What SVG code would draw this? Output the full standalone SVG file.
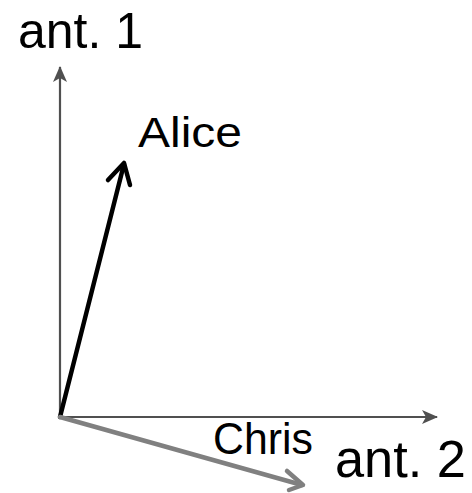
<svg xmlns="http://www.w3.org/2000/svg" width="472" height="493" viewBox="0 0 472 493">
<style>
.lbl{font-family:"Liberation Sans",Arial,sans-serif;fill:#000}
.axis{stroke:#505050;stroke-width:2.2;fill:none}
</style>
<defs>
<marker id="axh" viewBox="0 0 16 14" refX="15" refY="7" markerWidth="16" markerHeight="14" markerUnits="userSpaceOnUse" orient="auto">
<path d="M0,0 L16,7 L0,14 L4,7 Z" fill="#505050"/>
</marker>
</defs>
<rect width="472" height="493" fill="#fff"/>
<g id="connectors">
<line class="axis" x1="60" y1="418" x2="60" y2="67" marker-end="url(#axh)"/>
<line class="axis" x1="60" y1="417" x2="437" y2="417" marker-end="url(#axh)"/>
<g id="alice-vector">
<line x1="60" y1="417" x2="124" y2="164" stroke="#000" stroke-width="4.5" stroke-linecap="round"/>
<polyline points="108,180 124,163 130,185" fill="none" stroke="#000" stroke-width="4.5" stroke-linecap="round" stroke-linejoin="round"/>
</g>
<g id="chris-vector">
<line x1="60" y1="417" x2="302" y2="485" stroke="#808080" stroke-width="4.5" stroke-linecap="round"/>
<polyline points="287,471 303,485 289,490" fill="none" stroke="#808080" stroke-width="4.5" stroke-linecap="round" stroke-linejoin="round"/>
</g>
</g>
<g id="ant1"><text class="lbl" x="18" y="48" font-size="50" textLength="125" lengthAdjust="spacingAndGlyphs">ant. 1</text></g>
<g id="ant2"><text class="lbl" x="335" y="477" font-size="51" textLength="131" lengthAdjust="spacingAndGlyphs">ant. 2</text></g>
<g id="alice"><text class="lbl" x="138" y="147" font-size="42" textLength="104" lengthAdjust="spacingAndGlyphs">Alice</text></g>
<g id="chris"><text class="lbl" x="213" y="454" font-size="44" textLength="100" lengthAdjust="spacingAndGlyphs">Chris</text></g>
</svg>
